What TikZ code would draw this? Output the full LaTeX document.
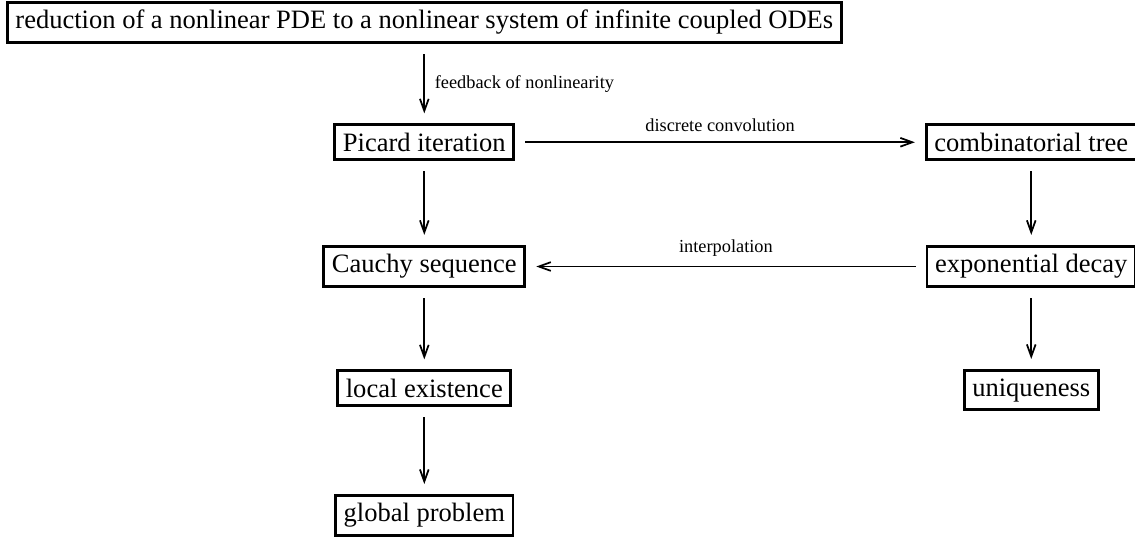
\documentclass[tikz,border=0pt]{standalone}
\usepackage{fontspec}
\setmainfont{Liberation Serif}
\usetikzlibrary{arrows.meta}
\begin{document}
\begin{tikzpicture}
[lineDecorate/.style={-{Straight Barb[length=5.5pt,width=4pt]},line width=0.8pt,shorten >=4.6pt,shorten <=4.6pt},%
  nodeDecorate/.style={shape=rectangle,inner sep=3.7pt,draw,line width=1.3pt,font=\fontsize{12.15}{14}\selectfont},%
  labelDecorate/.style={inner sep=4.4pt,font=\fontsize{8.4}{10}\selectfont}]
\useasboundingbox (0,0) rectangle (18.27,-8.69);
%% nodes or boxes
\foreach \nodename/\x/\y/\nodetext in {
  reduction/6.83/-0.36/{reduction of a nonlinear PDE to a nonlinear system of infinite coupled ODEs},
  picard/6.83/-2.29/{Picard iteration}, cauchy/6.83/-4.29/{Cauchy sequence},
  local/6.83/-6.25/{local existence}, global/6.83/-8.30/{global problem},
  tree/16.60/-2.29/{combinatorial tree}, decay/16.60/-4.29/{exponential decay},
  unique/16.60/-6.28/{uniqueness}}
{
  \node (\nodename) at (\x,\y) [nodeDecorate] {\nodetext};
}
%% edges or arrows
\path
\foreach \startnode/\endnode/\where/\edgetext in {
  reduction/picard/right/{feedback of nonlinearity},
  picard/tree/above/{discrete convolution}, decay/cauchy/above/{interpolation},
  picard/cauchy/right/{}, cauchy/local/right/{}, local/global/right/{},
  tree/decay/right/{}, decay/unique/right/{}}
{
  (\startnode) edge[lineDecorate] node[labelDecorate,\where] {\edgetext} (\endnode)
};
\end{tikzpicture}
\end{document}
